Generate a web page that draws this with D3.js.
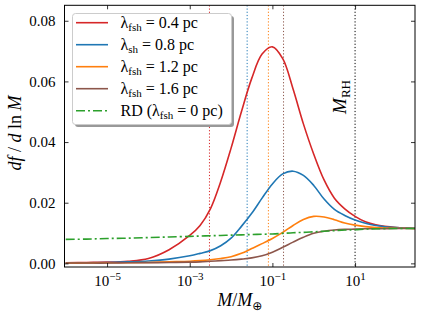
<!DOCTYPE html>
<html>
<head>
<meta charset="utf-8">
<script src="https://cdn.jsdelivr.net/npm/d3@7"></script>
<style>
  body { margin: 0; background: #fff; }
  svg { display: block; }
  text { fill: #000; }
</style>
</head>
<body>
<svg id="chart" width="421" height="317"></svg>
<script>
// log10(M / M_earth) sample points
var logM = [-6, -5.5, -5, -4.5, -4, -3.5, -3, -2.75, -2.5, -2.25, -2, -1.75, -1.5, -1.25, -1,
            -0.75, -0.5, -0.25, 0, 0.25, 0.5, 0.75, 1, 1.25, 1.5, 2, 2.45];

// df / d ln M
var red04 = [0.0002, 0.0003, 0.0004, 0.0007, 0.0016, 0.0045, 0.0092, 0.0125, 0.018, 0.027, 0.038,
             0.050, 0.061, 0.069, 0.0714, 0.0675, 0.0575, 0.046, 0.036, 0.0275, 0.0215, 0.018, 0.0155,
             0.0137, 0.0127, 0.0118, 0.0115];
var blue08 = [0.0002, 0.0002, 0.0003, 0.0005, 0.0008, 0.0014, 0.0025, 0.0033, 0.0042, 0.0058, 0.0083,
              0.0122, 0.0165, 0.0215, 0.0262, 0.0295, 0.0304, 0.0290, 0.0257, 0.0212, 0.0178, 0.0158,
              0.0143, 0.0132, 0.0125, 0.0118, 0.0116];
var orange12 = [0.0001, 0.0001, 0.0002, 0.0002, 0.0003, 0.0005, 0.0007, 0.0009, 0.0012, 0.0016, 0.0022,
                0.0033, 0.0049, 0.0065, 0.0082, 0.0102, 0.0125, 0.0145, 0.0155, 0.0153, 0.0144, 0.0133,
                0.0126, 0.0121, 0.0118, 0.0116, 0.0115];
var brown16 = [0.0001, 0.0001, 0.0001, 0.0002, 0.0002, 0.0003, 0.0004, 0.0005, 0.0007, 0.0009, 0.0011,
               0.0014, 0.0018, 0.0025, 0.0037, 0.0053, 0.0070, 0.0086, 0.0099, 0.0106, 0.0110, 0.0112,
               0.0113, 0.0114, 0.0114, 0.0115, 0.0115];
var rd0 = [0.0079, 0.0080, 0.0082, 0.0083, 0.0085, 0.0087, 0.0089, 0.0090, 0.0091, 0.0092, 0.0093,
           0.0094, 0.0095, 0.0096, 0.0097, 0.0099, 0.0101, 0.0102, 0.0104, 0.0106, 0.0108, 0.0110,
           0.0111, 0.0113, 0.0114, 0.0115, 0.0115];

var series = [
    {lab: "fsh", val: "0.4", color: "#d62728", data: red04},
    {lab: "sh", val: "0.8", color: "#1f77b4", data: blue08},
    {lab: "fsh", val: "1.2", color: "#ff7f0e", data: orange12},
    {lab: "fsh", val: "1.6", color: "#8c564b", data: brown16},
    {lab: "fsh", val: "0", color: "#2ca02c", data: rd0, rd: true}
];

// characteristic masses (vertical markers)
var markM = [0.003, 0.0245, 0.08, 0.186];
var markColors = ["#d62728", "#1f77b4", "#ff7f0e", "#8c564b"];
var mRH = 10;

var xTicks = [1e-5, 1e-3, 1e-1, 1e1];
var yTicks = [0, 0.02, 0.04, 0.06, 0.08];

var serif = "'Liberation Serif', serif";
var pLeft = 64.5, pRight = 415, pTop = 5.3, pBottom = 267;

var svg = d3.select("#chart");

var x = d3.scaleLog().domain([Math.pow(10, -6.03), Math.pow(10, 2.45)]).range([pLeft, pRight]);
var y = d3.scaleLinear().domain([-0.0012, 0.0851]).range([pBottom, pTop]);

svg.append("clipPath").attr("id", "clip")
    .append("rect").attr("x", pLeft).attr("y", pTop).attr("width", pRight - pLeft).attr("height", pBottom - pTop);

var plot = svg.append("g").attr("clip-path", "url(#clip)");

// vertical dotted markers
markM.forEach(function (m, i) {
    plot.append("line")
        .attr("x1", x(m)).attr("x2", x(m))
        .attr("y1", pTop).attr("y2", pBottom)
        .style("stroke", markColors[i])
        .style("stroke-width", 1)
        .style("stroke-dasharray", "1.2,2");
});
plot.append("line")
    .attr("x1", x(mRH)).attr("x2", x(mRH))
    .attr("y1", pTop).attr("y2", pBottom)
    .style("stroke", "#000")
    .style("stroke-width", 1)
    .style("stroke-dasharray", "1.2,2");

var line = d3.line()
    .x(function (d) { return x(Math.pow(10, d[0])); })
    .y(function (d) { return y(d[1]); })
    .curve(d3.curveCatmullRom.alpha(0.5));

series.forEach(function (s) {
    var pts = logM.map(function (l, i) { return [l, s.data[i]]; });
    plot.append("path")
        .datum(pts)
        .attr("d", line)
        .style("fill", "none")
        .style("stroke", s.color)
        .style("stroke-width", 1.6)
        .style("stroke-dasharray", s.rd ? "9,3,2,3" : null);
});

// M_RH label
var rh = svg.append("text")
    .attr("transform", "translate(346," + 97 + ") rotate(-90)")
    .attr("text-anchor", "middle")
    .style("font-size", "19px");
rh.append("tspan").style("font-style", "italic").text("M");
rh.append("tspan").attr("dy", 4).style("font-size", "13px").text("RH");

// axes, ticks inward on all four sides
var fmtPow = function (sel) {
    sel.selectAll(".tick text").each(function (d) {
        var t = d3.select(this).text("");
        var e = Math.round(Math.log10(d));
        t.append("tspan").text("10");
        t.append("tspan").attr("dy", -6).style("font-size", "11px")
            .text(e < 0 ? "\u2212" + (-e) : String(e));
    });
};

var gx = svg.append("g").attr("transform", "translate(0," + pBottom + ")")
    .call(d3.axisBottom(x).tickValues(xTicks).tickSize(-4).tickSizeOuter(0).tickPadding(8));
fmtPow(gx);
svg.append("g").attr("transform", "translate(0," + pTop + ")")
    .call(d3.axisTop(x).tickValues(xTicks).tickSize(-4).tickSizeOuter(0).tickFormat(""));

svg.append("g").attr("transform", "translate(" + pLeft + ",0)")
    .call(d3.axisLeft(y).tickValues(yTicks).tickSize(-4).tickSizeOuter(0).tickPadding(9)
        .tickFormat(d3.format(".2f")));
svg.append("g").attr("transform", "translate(" + pRight + ",0)")
    .call(d3.axisRight(y).tickValues(yTicks).tickSize(-4).tickSizeOuter(0).tickFormat(""));

svg.selectAll(".domain").remove();
svg.selectAll(".tick line").style("stroke", "#000").style("stroke-width", 0.8);
svg.selectAll(".tick text").style("font-size", "15px");

svg.append("rect")
    .attr("x", pLeft).attr("y", pTop).attr("width", pRight - pLeft).attr("height", pBottom - pTop)
    .style("fill", "none").style("stroke", "#000").style("stroke-width", 1);

// axis labels
var xl = svg.append("text")
    .attr("x", (pLeft + pRight) / 2).attr("y", 306)
    .attr("text-anchor", "middle")
    .style("font-size", "18px");
xl.append("tspan").style("font-style", "italic").text("M");
xl.append("tspan").text("/");
xl.append("tspan").style("font-style", "italic").text("M");
xl.append("tspan").attr("class", "oplus").attr("dy", 4).style("font-size", "12px").text("\u2295");

var yl = svg.append("text")
    .attr("transform", "translate(21," + 133 + ") rotate(-90)")
    .attr("text-anchor", "middle")
    .style("font-size", "18px");
yl.append("tspan").style("font-style", "italic").text("df");
yl.append("tspan").text(" / ");
yl.append("tspan").style("font-style", "italic").text("d");
yl.append("tspan").text(" ln ");
yl.append("tspan").style("font-style", "italic").text("M");

// legend
var lg = svg.append("g");
lg.append("rect")
    .attr("x", 75).attr("y", 16).attr("width", 159).attr("height", 111).attr("rx", 3)
    .style("fill", "#999");
lg.append("rect")
    .attr("x", 72.5).attr("y", 13.5).attr("width", 159).attr("height", 111).attr("rx", 3)
    .style("fill", "#fff").style("stroke", "#ccc").style("stroke-width", 1);

series.forEach(function (s, i) {
    var cy = 22.7 + i * 22;
    lg.append("line")
        .attr("x1", 76).attr("x2", 108).attr("y1", cy).attr("y2", cy)
        .style("stroke", s.color).style("stroke-width", 1.6)
        .style("stroke-dasharray", s.rd ? "9,3,2,3" : null);
    var t = lg.append("text").attr("x", 120.5).attr("y", cy + 5).style("font-size", "16px");
    if (s.rd) t.append("tspan").text("RD (");
    t.append("tspan").text("\u03bb");
    t.append("tspan").attr("dy", 3).style("font-size", "11px").text(s.lab);
    t.append("tspan").attr("dy", -3).text(" = " + s.val + " pc" + (s.rd ? ")" : ""));
});

// serif everywhere (axis groups carry a sans-serif attribute)
svg.selectAll("g").attr("font-family", null);
svg.selectAll("text").style("font-family", serif);
svg.selectAll("tspan.oplus").style("font-family", "'DejaVu Sans', sans-serif");
</script>
</body>
</html>
